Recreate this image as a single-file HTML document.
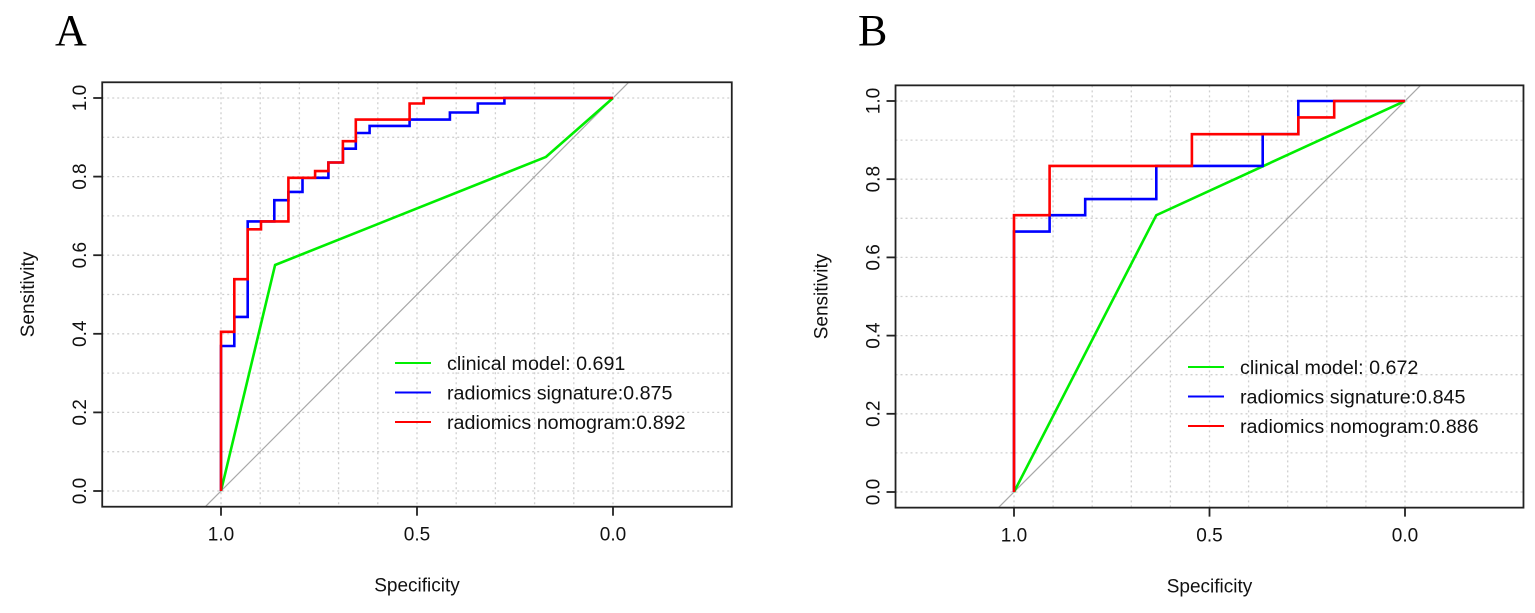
<!DOCTYPE html>
<html><head><meta charset="utf-8"><style>
html,body{margin:0;padding:0;background:#fff;}
svg{display:block;font-family:"Liberation Sans",Arial,sans-serif;}
</style></head><body>
<svg id="chart" width="1535" height="613" xmlns="http://www.w3.org/2000/svg">
<text x="55" y="45" font-family="Liberation Serif,serif" font-size="44">A</text>
<text x="858" y="45" font-family="Liberation Serif,serif" font-size="44">B</text>
</svg>
<script>
// ---- data ----
const ticksX = [1.0, 0.5, 0.0];
const ticksY = [0.0, 0.2, 0.4, 0.6, 0.8, 1.0];
const tickLabelsX = ["1.0", "0.5", "0.0"];
const tickLabelsY = ["0.0", "0.2", "0.4", "0.6", "0.8", "1.0"];
// Panel A (spec, sens pairs)
const aClinSpec = [1, 0.862, 0.171, 0];
const aClinSens = [0, 0.575, 0.85, 1];
const aSigSpec = [1,1,0.966,0.966,0.932,0.932,0.864,0.864,0.828,0.828,0.792,0.792,0.726,0.726,0.689,0.689,0.656,0.656,0.621,0.621,0.519,0.519,0.416,0.416,0.345,0.345,0.277,0.277,0];
const aSigSens = [0,0.369,0.369,0.443,0.443,0.686,0.686,0.74,0.74,0.761,0.761,0.797,0.797,0.836,0.836,0.871,0.871,0.911,0.911,0.929,0.929,0.945,0.945,0.963,0.963,0.986,0.986,1,1];
const aNomSpec = [1,1,0.966,0.966,0.932,0.932,0.898,0.898,0.828,0.828,0.76,0.76,0.726,0.726,0.689,0.689,0.656,0.656,0.519,0.519,0.483,0.483,0];
const aNomSens = [0,0.405,0.405,0.539,0.539,0.666,0.666,0.686,0.686,0.797,0.797,0.814,0.814,0.836,0.836,0.89,0.89,0.945,0.945,0.986,0.986,1,1];
// Panel B
const bClinSpec = [1, 0.636, 0];
const bClinSens = [0, 0.708, 1];
const bSigSpec = [1,1,0.909,0.909,0.818,0.818,0.636,0.636,0.364,0.364,0.273,0.273,0];
const bSigSens = [0,0.666,0.666,0.708,0.708,0.749,0.749,0.834,0.834,0.915,0.915,1,1];
const bNomSpec = [1,1,0.909,0.909,0.545,0.545,0.273,0.273,0.181,0.181,0];
const bNomSens = [0,0.708,0.708,0.834,0.834,0.915,0.915,0.958,0.958,1,1];
const aLegend = ["clinical model: 0.691","radiomics signature:0.875","radiomics nomogram:0.892"];
const bLegend = ["clinical model: 0.672","radiomics signature:0.845","radiomics nomogram:0.886"];

const NS = "http://www.w3.org/2000/svg";
const svg = document.getElementById('chart');
function mk(tag, attrs, parent){ const e=document.createElementNS(NS,tag); for(const k in attrs) e.setAttribute(k,attrs[k]); (parent||svg).appendChild(e); return e; }

function panel(id, cfg){
  const g = mk('g',{});
  
  
  const X = s => cfg.x0 + (1 - s) * (cfg.x1 - cfg.x0);
  const Y = v => cfg.y0 - v * (cfg.y0 - cfg.y1);
  const L = X(1.303), R = X(-0.303), T = Y(1.04), B = Y(-0.04);
  for(let i=0;i<=10;i++){
    const gx = mk('line',{x1:X(i/10),x2:X(i/10),y1:T,y2:B,stroke:'#d0d0d0','stroke-width':1.3,'stroke-dasharray':'2,3'},g);
    
    
    const gy = mk('line',{x1:L,x2:R,y1:Y(i/10),y2:Y(i/10),stroke:'#d0d0d0','stroke-width':1.3,'stroke-dasharray':'2,3'},g);
    
    
  }
  const d = mk('line',{x1:X(1.04),y1:Y(-0.04),x2:X(-0.04),y2:Y(1.04),stroke:'#a8a8a8','stroke-width':1.2},g);
  
  
  const series = [[cfg.clinSpec,cfg.clinSens,'#00ee00','clinical-curve'],[cfg.sigSpec,cfg.sigSens,'#0000ff','signature-curve'],[cfg.nomSpec,cfg.nomSens,'#ff0000','nomogram-curve']];
  series.forEach(s=>{
    const pts = s[0].map((sp,i)=>X(sp).toFixed(1)+','+Y(s[1][i]).toFixed(1)).join(' ');
    const p = mk('polyline',{points:pts,fill:'none',stroke:s[2],'stroke-width':2.6},g);
    
    
  });
  const bx = mk('rect',{x:L,y:T,width:R-L,height:B-T,fill:'none',stroke:'#222','stroke-width':1.8},g);
  
  
  ticksX.forEach((t,i)=>{
    mk('line',{x1:X(t),x2:X(t),y1:B,y2:B+9,stroke:'#222','stroke-width':1.8},g);
    const tx = mk('text',{x:X(t),y:B+34,'font-size':19,'text-anchor':'middle',fill:'#111'},g);
    tx.textContent = tickLabelsX[i];
    
    
  });
  ticksY.forEach((t,i)=>{
    mk('line',{x1:L,x2:L-9,y1:Y(t),y2:Y(t),stroke:'#222','stroke-width':1.8},g);
    const tx = mk('text',{x:0,y:0,'font-size':19,'text-anchor':'middle',fill:'#111',transform:`translate(${L-16},${Y(t)}) rotate(-90)`},g);
    tx.textContent = tickLabelsY[i];
    
    
  });
  const xt = mk('text',{x:X(0.5),y:B+85,'font-size':19,'text-anchor':'middle',fill:'#111'},g);
  xt.textContent='Specificity';
  
  
  const yt = mk('text',{x:0,y:0,'font-size':19,'text-anchor':'middle',fill:'#111',transform:`translate(${L-68},${Y(0.5)}) rotate(-90)`},g);
  yt.textContent='Sensitivity';
  
  
  const cols=['#00ee00','#0000ff','#ff0000'];
  cfg.legend.forEach((lab,i)=>{
    const ly = cfg.legY + i*29.5;
    const ln = mk('line',{x1:cfg.legX,x2:cfg.legX+36,y1:ly,y2:ly,stroke:cols[i],'stroke-width':2},g);
    
    
    const tx = mk('text',{x:cfg.legX+52,y:ly+7,'font-size':19.7,fill:'#111'},g);
    tx.textContent = lab;
    
    
  });
}
panel('a',{x0:221,x1:613,y0:491,y1:98,clinSpec:aClinSpec,clinSens:aClinSens,sigSpec:aSigSpec,sigSens:aSigSens,nomSpec:aNomSpec,nomSens:aNomSens,legend:aLegend,legX:395,legY:363});
panel('b',{x0:1014,x1:1405,y0:492,y1:101,clinSpec:bClinSpec,clinSens:bClinSens,sigSpec:bSigSpec,sigSens:bSigSens,nomSpec:bNomSpec,nomSens:bNomSens,legend:bLegend,legX:1188,legY:367});
</script>
</body></html>
